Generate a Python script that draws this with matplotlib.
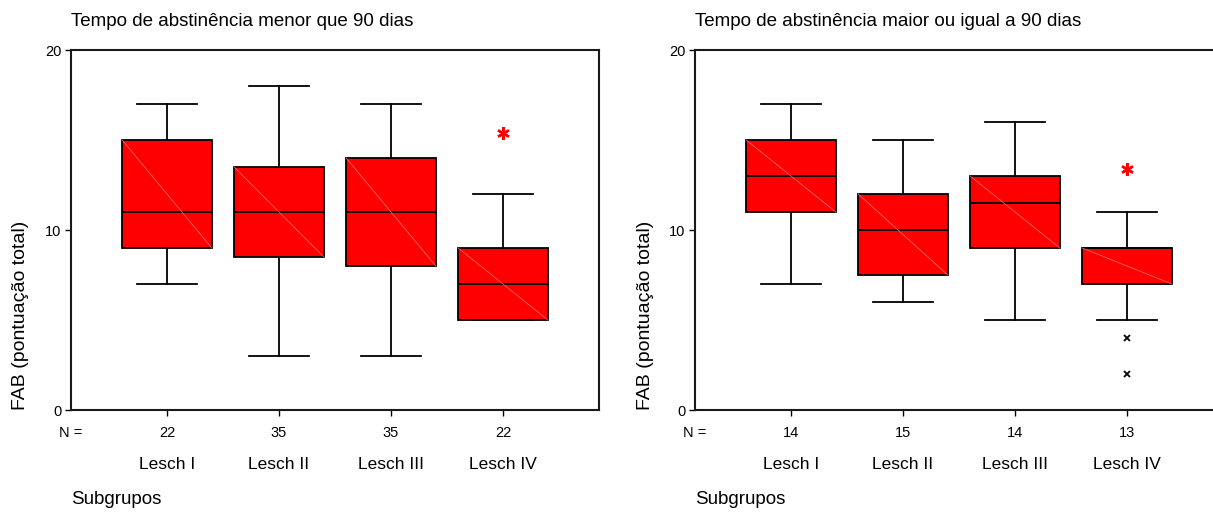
import numpy as np
import matplotlib
matplotlib.use("Agg")
import matplotlib.pyplot as plt
import matplotlib.transforms as mtransforms

plt.rcParams["font.family"] = ["Liberation Sans", "DejaVu Sans"]

# ── Data ─────────────────────────────────────────────────────────────────────
categories = ["Lesch I", "Lesch II", "Lesch III", "Lesch IV"]

titles = ["Tempo de abstinência menor que 90 dias",
          "Tempo de abstinência maior ou igual a 90 dias"]

# panel 1 (< 90 dias)
n_lt90      = [22, 35, 35, 22]
whislo_lt90 = [7, 3, 3, 5]
q1_lt90     = [9, 8.5, 8, 5]
med_lt90    = [11, 11, 11, 7]
q3_lt90     = [15, 13.5, 14, 9]
whishi_lt90 = [17, 18, 17, 12]
extreme_lt90 = [[], [], [], [15.4]]     # red asterisks
outlier_lt90 = [[], [], [], []]          # black crosses

# panel 2 (>= 90 dias)
n_ge90      = [14, 15, 14, 13]
whislo_ge90 = [7, 6, 5, 5]
q1_ge90     = [11, 7.5, 9, 7]
med_ge90    = [13, 10, 11.5, 9]
q3_ge90     = [15, 12, 13, 9]
whishi_ge90 = [17, 15, 16, 11]
extreme_ge90 = [[], [], [], [13.4]]
outlier_ge90 = [[], [], [], [4, 2]]

panels = [
    (titles[0], n_lt90, whislo_lt90, q1_lt90, med_lt90, q3_lt90, whishi_lt90,
     extreme_lt90, outlier_lt90),
    (titles[1], n_ge90, whislo_ge90, q1_ge90, med_ge90, q3_ge90, whishi_ge90,
     extreme_ge90, outlier_ge90),
]

# ── Figure ───────────────────────────────────────────────────────────────────
W, H = 1213, 515
fig = plt.figure(figsize=(W / 100, H / 100), dpi=100)

ax_left_px = [71, 695]
ax_w_px, ax_h_px = 528, 360
ax_bottom_px = 410

positions = np.arange(1, len(categories) + 1)
box_w = 0.80
cap_w = 0.54

for i, (title, n, wlo, q1, med, q3, whi, extr, outl) in enumerate(panels):
    ax = fig.add_axes([ax_left_px[i] / W, (H - ax_bottom_px) / H,
                       ax_w_px / W, ax_h_px / H])
    stats = []
    for k in range(len(categories)):
        stats.append(dict(med=med[k], q1=q1[k], q3=q3[k],
                          whislo=wlo[k], whishi=whi[k], fliers=[]))
    ax.bxp(stats, positions=positions, widths=box_w, capwidths=cap_w,
           patch_artist=True, showfliers=False,
           boxprops=dict(facecolor="#ff0000", edgecolor="black", linewidth=1.3),
           medianprops=dict(color="black", linewidth=1.3),
           whiskerprops=dict(color="black", linewidth=1.3),
           capprops=dict(color="black", linewidth=1.3))

    # faint diagonal rendering artefact across each box
    for k, p in enumerate(positions):
        ax.plot([p - box_w / 2, p + box_w / 2], [q3[k], q1[k]],
                color="#ff8080", lw=0.6, alpha=0.8, zorder=3)

    for k, p in enumerate(positions):
        if extr[k]:
            ax.plot([p] * len(extr[k]), extr[k], ls="none",
                    marker=(6, 2, 0), ms=9, mew=1.7, color="#ff0000")
        if outl[k]:
            ax.plot([p] * len(outl[k]), outl[k], ls="none",
                    marker="x", ms=5, mew=1.3, color="black")

    ax.set_xlim(0.143, 4.857)
    ax.set_ylim(0, 20)
    ax.set_yticks([0, 10, 20])
    ax.set_xticks(positions)
    ax.set_xticklabels(categories, fontsize=12.5)
    ax.tick_params(axis="x", direction="out", length=4, width=1, pad=30)
    ax.tick_params(axis="y", direction="out", length=4, width=1, pad=3,
                   labelsize=10.5)
    for s in ax.spines.values():
        s.set_linewidth(1.5)
        s.set_color("#1a1a1a")

    trans = mtransforms.blended_transform_factory(ax.transData, ax.transAxes)
    for k, p in enumerate(positions):
        ax.text(p, -0.065, str(n[k]), transform=trans, ha="center",
                va="center", fontsize=10.5)
    ax.text(0.0, -0.065, "N =", transform=ax.transAxes, ha="center",
            va="center", fontsize=10.5)

    ax.text(0.0, 1.0 + 28 / ax_h_px, title, transform=ax.transAxes,
            ha="left", va="center", fontsize=13.5)
    ax.text(0.0, -90 / ax_h_px, "Subgrupos", transform=ax.transAxes,
            ha="left", va="center", fontsize=13.5)
    ax.text(-50 / ax_w_px, 0.0, "FAB (pontuação total)",
            transform=ax.transAxes, rotation=90, ha="center", va="bottom",
            fontsize=14)

fig.savefig("out.png", dpi=100)
